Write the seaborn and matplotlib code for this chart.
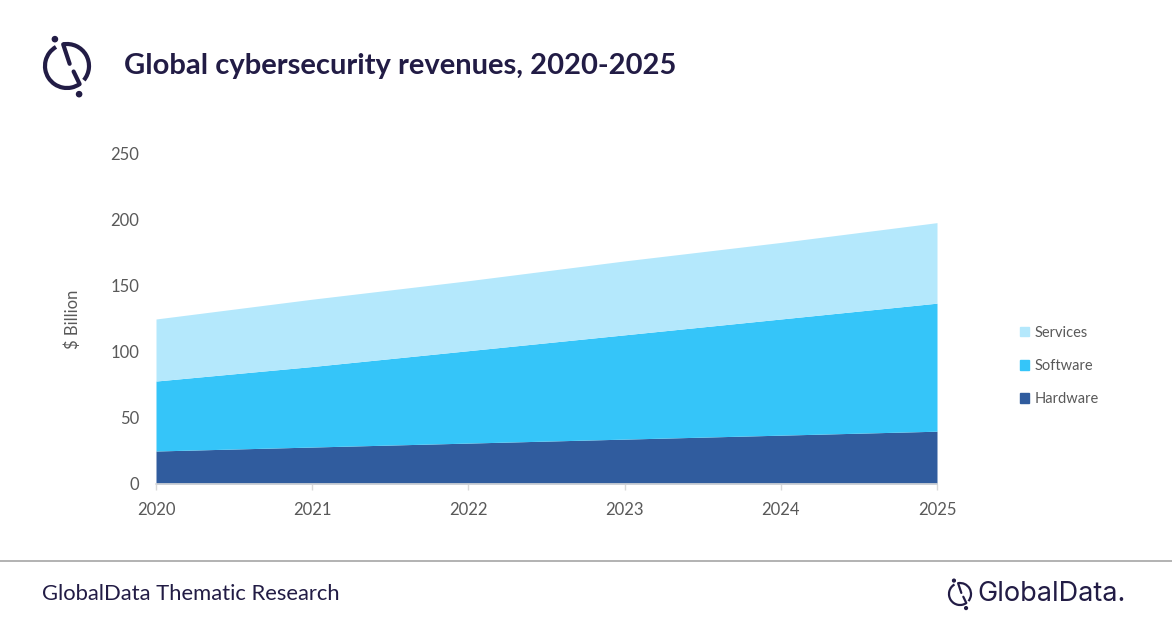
import numpy as np
import pandas as pd
import matplotlib
matplotlib.use('Agg')
import matplotlib.pyplot as plt
from matplotlib.patches import Arc, Circle, Patch
from matplotlib.lines import Line2D
import seaborn as sns

# data ($ billion)
years = [2020, 2021, 2022, 2023, 2024, 2025]
hardware = [25, 28, 31, 34, 37, 40]
software = [53, 61, 70, 79, 88, 97]
services = [47, 51, 53, 56, 58, 61]
series_names = ['Hardware', 'Software', 'Services']
series_colors = ['#305C9E', '#35C5F9', '#B4E8FC']
y_ticks = [0, 50, 100, 150, 200, 250]

df = pd.DataFrame({'Year': years, 'Hardware': hardware,
                   'Software': software, 'Services': services})

sns.set_theme(style='white')
plt.rcParams['font.family'] = ['Lato', 'DejaVu Sans']

NAVY = '#221C45'
GREY = '#595959'

fig = plt.figure(figsize=(11.72, 6.28), dpi=100)

# decoration layer in pixel coords
deco = fig.add_axes([0, 0, 1, 1], facecolor='none')
deco.set_xlim(0, 1172)
deco.set_ylim(628, 0)
deco.axis('off')


def draw_logo(ax, cx, cy, r, lw, dot):
    # ylim is flipped, so angles run clockwise on screen
    ax.add_patch(Arc((cx, cy), 2 * r, 2 * r, theta1=55, theta2=240, color=NAVY, lw=lw))
    ax.add_patch(Arc((cx, cy), 2 * r, 2 * r, theta1=260, theta2=400, color=NAVY, lw=lw))
    p_top = (cx + r * np.cos(np.radians(260)), cy + r * np.sin(np.radians(260)))
    p_bot = (cx + r * np.cos(np.radians(55)), cy + r * np.sin(np.radians(55)))
    ax.add_line(Line2D([p_top[0], cx + 0.12 * r], [p_top[1], cy - 0.1 * r],
                       color=NAVY, lw=lw, solid_capstyle='round'))
    ax.add_line(Line2D([cx + 0.3 * r, p_bot[0]], [cy + 0.25 * r, p_bot[1]],
                       color=NAVY, lw=lw, solid_capstyle='round'))
    ax.add_patch(Circle((cx - 0.55 * r, cy - 1.22 * r), dot, color=NAVY))
    ax.add_patch(Circle((cx + 0.55 * r, cy + 1.28 * r), dot, color=NAVY))


draw_logo(deco, 67, 66, 22, 3.0, 2.6)
draw_logo(deco, 960, 594, 11, 1.6, 1.4)

deco.text(124, 66, 'Global cybersecurity revenues, 2020-2025', fontsize=21,
          fontweight='bold', color=NAVY, va='center', ha='left')
deco.plot([0, 1172], [561, 561], color='#A6A6A6', lw=1.2)
deco.text(42, 594, 'GlobalData Thematic Research', fontsize=15.8,
          color=NAVY, va='center', ha='left')
deco.text(977, 594, 'GlobalData.', fontsize=19.5, color=NAVY,
          va='center', ha='left', family=['Inter', 'DejaVu Sans'])

# chart
ax = fig.add_axes([156 / 1172, 1 - 484 / 628, (937 - 156) / 1172, 330 / 628])
ax.stackplot(df['Year'], df['Hardware'], df['Software'], df['Services'],
             colors=series_colors, labels=series_names, linewidth=0)
ax.set_xlim(years[0], years[-1])
ax.set_ylim(0, 250)
ax.set_xticks(years)
ax.set_xticklabels([str(y) for y in years])
ax.set_yticks(y_ticks)
ax.set_yticklabels([str(v) for v in y_ticks])
sns.despine(ax=ax, left=True)
ax.spines['bottom'].set_color('#D9D9D9')
ax.spines['bottom'].set_linewidth(1.2)
ax.tick_params(axis='x', bottom=True, length=4, width=1, color='#D9D9D9',
               pad=9, labelsize=12, labelcolor=GREY)
ax.tick_params(axis='y', left=False, length=0, pad=12, labelsize=12, labelcolor=GREY)
ax.set_xlabel('')
ax.set_ylabel('$ Billion', fontsize=12, color=GREY)
ax.yaxis.set_label_coords(-0.096, 0.5)
ax.grid(False)

handles = [Patch(color=c, label=n) for n, c in zip(series_names, series_colors)][::-1]
fig.legend(handles=handles, loc='center left',
           bbox_to_anchor=(1020 / 1172, 1 - 366 / 628), frameon=False,
           fontsize=10.5, labelcolor=GREY, handlelength=0.65, handleheight=0.65,
           handletextpad=0.35, labelspacing=1.33, borderpad=0, borderaxespad=0)

fig.savefig('out.png', dpi=100)
